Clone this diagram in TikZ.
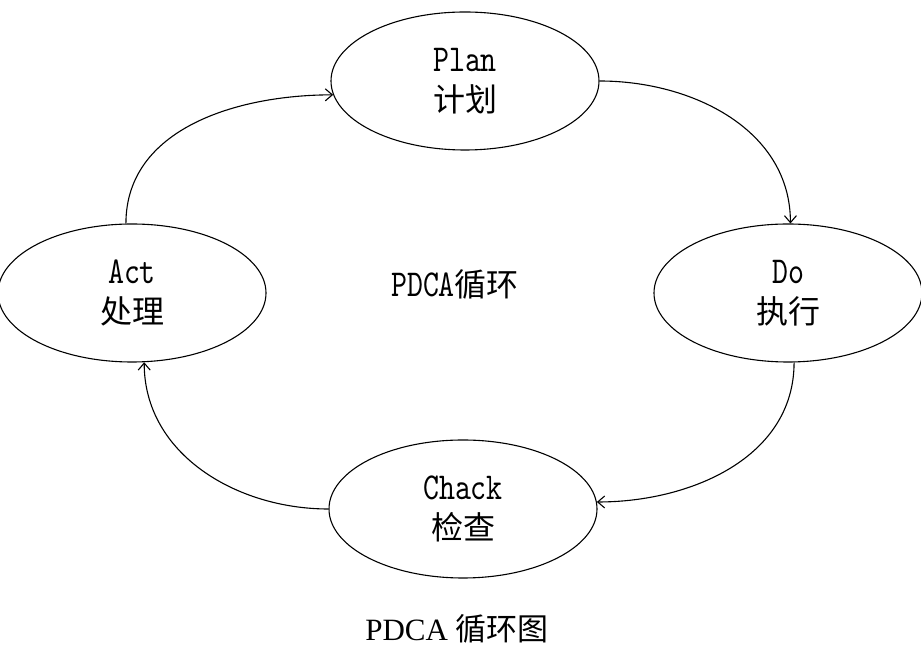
\documentclass[tikz,border=0pt]{standalone}
\usepackage{fontspec}
\setmainfont{Liberation Serif}
\newfontfamily\cjk{Noto Sans CJK SC}
\newfontfamily\latmono{lmmono10-regular}[Extension=.otf, FakeStretch=0.8]
\usetikzlibrary{shapes.geometric,arrows.meta}
\newcommand\lat[1]{{\latmono\fontsize{38}{40}\selectfont #1}}
\newcommand\zh[1]{{\cjk\fontsize{32}{40}\selectfont #1}}
\begin{document}
\begin{tikzpicture}[x=1pt,y=1pt,
  phase/.style={draw, line width=1.1pt, ellipse, inner sep=0pt,
    minimum width=268pt, minimum height=138pt, align=center,
    font=\fontsize{32}{40}\selectfont},
  arr/.style={line width=1.1pt, -{Straight Barb[length=7pt,width=12pt]}},
  txt/.style={inner sep=0pt, font=\fontsize{32}{40}\selectfont}]
\useasboundingbox (0,0) rectangle (921,650);
\node[phase] (plan)  at (465,569) {\lat{Plan}\\\zh{计划}};
\node[phase] (do)    at (788,357) {\lat{Do}\\\zh{执行}};
\node[phase] (act)   at (132,357) {\lat{Act}\\\zh{处理}};
\node[phase] (chack) at (463,141) {\lat{Chack}\\\zh{检查}};
\node[txt] (center) at (455,366) {\lat{PDCA}\zh{循环}};
\node[txt] (caption) at (457,21) {\fontsize{31}{36}\selectfont PDCA \zh{\fontsize{31}{36}\selectfont 循环图}};
\draw[arr] (act.95) to[out=90,in=180] (plan.186);
\draw[arr] (plan.east) to[out=0,in=90] (do.88);
\draw[arr] (do.-85) to[out=-90,in=0] (chack.3);
\draw[arr] (chack.west) to[out=180,in=-90] (act.-80);
\end{tikzpicture}
\end{document}
